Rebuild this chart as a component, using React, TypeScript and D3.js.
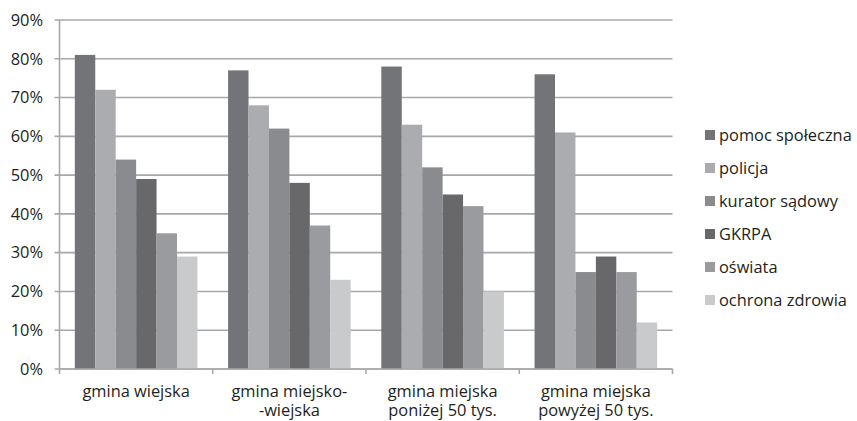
import React from "react";
import * as d3 from "d3";

const categories: string[][] = [
  ["gmina wiejska"],
  ["gmina miejsko-", "-wiejska"],
  ["gmina miejska", "poniżej 50 tys."],
  ["gmina miejska", "powyżej 50 tys."],
];
const seriesNames = ["pomoc społeczna", "policja", "kurator sądowy", "GKRPA", "oświata", "ochrona zdrowia"];
const seriesColors = ["#737477", "#abacaf", "#8a8b8e", "#68686a", "#9a9b9e", "#c9cacc"];
const pomoc = [81, 77, 78, 76];
const policja = [72, 68, 63, 61];
const kurator = [54, 62, 52, 25];
const gkrpa = [49, 48, 45, 29];
const oswiata = [35, 37, 42, 25];
const ochrona = [29, 23, 20, 12];
const seriesValues = [pomoc, policja, kurator, gkrpa, oswiata, ochrona];
const yTicks = [0, 10, 20, 30, 40, 50, 60, 70, 80, 90];

const W = 857, H = 421;
const left = 59.5, right = 672.5, top = 20, bottom = 369;
const FONT = "'Open Sans', 'Noto Sans', sans-serif";
const TXT = "#231f20";
const FS = 16.4;

export default function App() {
  const y = d3.scaleLinear().domain([0, 90]).range([bottom, top]);
  const x0 = d3.scaleBand<number>().domain(d3.range(categories.length)).range([left, right]).paddingInner(0).paddingOuter(0);
  const bw = x0.bandwidth();
  const gap = bw * (1.5 / 7.5) / 2;
  const x1 = d3.scaleBand<number>().domain(d3.range(seriesNames.length)).range([gap, bw - gap]).padding(0);
  return (
    <svg width={W} height={H} style={{ position: "absolute", left: 0, top: 0 }}>
      <rect width={W} height={H} fill="#fff" />
      {yTicks.map((t) => (
        <g key={t}>
          <line x1={left - 5} x2={right} y1={y(t)} y2={y(t)} stroke="#a7a8aa" strokeWidth={1.6} />
          <text x={43} y={y(t)} dy="0.35em" textAnchor="end" fontFamily={FONT} fontSize={FS} fill={TXT}>{t}%</text>
        </g>
      ))}
      <line x1={left} x2={left} y1={top} y2={bottom} stroke="#a7a8aa" strokeWidth={1.6} />
      {seriesValues.map((vals, s) =>
        vals.map((v, c) => (
          <rect key={`${s}-${c}`} x={x0(c)! + x1(s)!} width={x1.bandwidth()} y={y(v)} height={bottom - y(v)} fill={seriesColors[s]} />
        ))
      )}
      <line x1={left} x2={right} y1={bottom} y2={bottom} stroke="#a7a8aa" strokeWidth={1.6} />
      {d3.range(categories.length + 1).map((i) => (
        <line key={i} x1={left + i * bw} x2={left + i * bw} y1={bottom} y2={bottom + 5} stroke="#a7a8aa" strokeWidth={1.6} />
      ))}
      {categories.map((lines, c) =>
        lines.map((l, i) => (
          <text key={`${c}-${i}`} x={x0(c)! + bw / 2} y={397 + i * 19} textAnchor="middle" fontFamily={FONT} fontSize={FS} fill={TXT}>{l}</text>
        ))
      )}
      {seriesNames.map((n, s) => (
        <g key={n} transform={`translate(705, ${135 + s * 33})`}>
          <rect x={0} y={-5} width={10} height={10} fill={seriesColors[s]} />
          <text x={14} y={0} dy="0.35em" fontFamily={FONT} fontSize={FS} fill={TXT}>{n}</text>
        </g>
      ))}
    </svg>
  );
}
